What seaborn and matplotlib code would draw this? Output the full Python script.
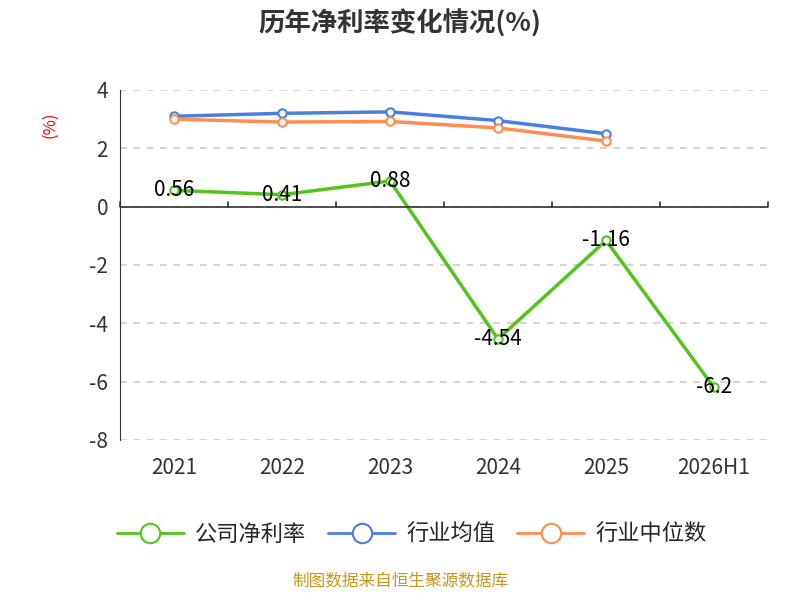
import matplotlib
matplotlib.use("Agg")
import matplotlib.pyplot as plt
import seaborn as sns
import pandas as pd
from matplotlib.lines import Line2D

categories = ["2021", "2022", "2023", "2024", "2025", "2026H1"]
company = [0.56, 0.41, 0.88, -4.54, -1.16, -6.2]
industry_avg = [3.1, 3.2, 3.25, 2.95, 2.5]
industry_median = [3.0, 2.9, 2.92, 2.7, 2.25]

sns.set_style("white")
plt.rcParams['font.family'] = ['Noto Sans CJK SC', 'DejaVu Sans']
plt.rcParams['axes.unicode_minus'] = False

fig = plt.figure(figsize=(8, 6), dpi=100)
ax = fig.add_axes([0.15, 0.2667, 0.81, 0.5833])

x = list(range(len(categories)))
series = [("公司净利率", company, "#52c41a"),
          ("行业均值", industry_avg, "#4a7fe0"),
          ("行业中位数", industry_median, "#ff8c50")]
handles = []
for name, vals, col in series:
    df = pd.DataFrame({"x": x[:len(vals)], "y": vals})
    sns.lineplot(data=df, x="x", y="y", ax=ax, color=col, lw=2.5, marker="o",
                 markersize=6, markerfacecolor="white", markeredgecolor=col,
                 markeredgewidth=1.5, legend=False)
    handles.append(Line2D([], [], color=col, lw=2, marker="o", markersize=14,
                          markerfacecolor="white", markeredgecolor=col,
                          markeredgewidth=1.5, label=name))

for xi, v in zip(x, company):
    ax.text(xi, v, f"{v:g}", ha="center", va="center", fontsize=15, color="black")

ax.set_xlim(-0.5, 5.5)
ax.set_ylim(-8, 4)
ax.set_yticks(range(-8, 5, 2))
ax.set_xticks(x)
ax.set_xticklabels(categories)
ax.tick_params(axis="both", labelsize=15, colors="#333333", length=5, direction="out")
ax.tick_params(axis="x", length=0, pad=12)
ax.set_xlabel("")
ax.set_ylabel("(%)", color="red", fontsize=12)
ax.yaxis.set_label_coords(-0.095, 0.9)
ax.grid(axis="y", ls=(0, (4, 4)), color="#cccccc", lw=1.2)
for s in ["top", "right", "bottom"]:
    ax.spines[s].set_visible(False)
ax.spines["left"].set_color("#333333")
ax.axhline(0, color="#333333", lw=1.2)
for b in [i + 0.5 for i in range(-1, 6)]:
    ax.plot([b, b], [0, 0.15], color="#333333", lw=1.2, clip_on=False)

ax.legend(handles=handles, loc="upper center", bbox_to_anchor=(0.45, -0.18), ncol=3,
          frameon=False, fontsize=16, handlelength=3, columnspacing=1.0, handletextpad=0.5)

fig.text(0.5, 0.96, "历年净利率变化情况(%)", ha="center", va="center",
         fontsize=19, fontweight="bold", color="#333333")
fig.text(0.5, 0.017, "制图数据来自恒生聚源数据库", ha="center", va="bottom",
         fontsize=12, color="#c8961e")

fig.savefig("out.png", dpi=100)
